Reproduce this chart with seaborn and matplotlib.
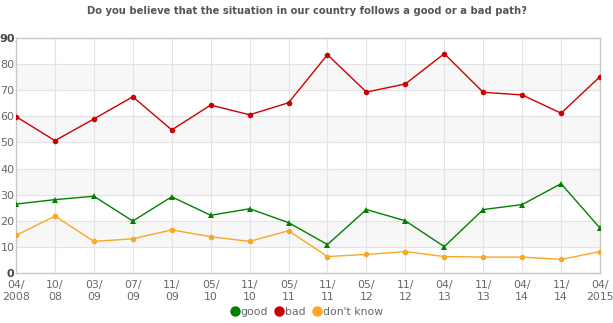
import matplotlib
matplotlib.use("Agg")
import matplotlib.pyplot as plt
import seaborn as sns
import pandas as pd
from matplotlib.lines import Line2D

categories = ["04/\n2008", "10/\n08", "03/\n09", "07/\n09", "11/\n09", "05/\n10", "11/\n10", "05/\n11",
              "11/\n11", "05/\n12", "11/\n12", "04/\n13", "11/\n13", "04/\n14", "11/\n14", "04/\n2015"]
good = [26.4, 28.1, 29.4, 19.9, 29.2, 22.1, 24.6, 19.3, 10.9, 24.3, 20.0, 10.1, 24.3, 26.2, 34.2, 17.2]
bad = [59.9, 50.7, 59.0, 67.5, 54.8, 64.3, 60.6, 65.2, 83.6, 69.3, 72.4, 84.0, 69.2, 68.2, 61.2, 75.2]
dont_know = [14.4, 21.8, 12.1, 13.1, 16.5, 13.9, 12.1, 16.2, 6.3, 7.1, 8.2, 6.3, 6.1, 6.1, 5.2, 8.2]
series_names = ["good", "bad", "don't know"]
colors = {"good": "#008000", "bad": "#cc0000", "don't know": "#f9a825"}
markers = {"good": "^", "bad": "o", "don't know": "o"}
yticks = list(range(0, 91, 10))

rows = []
for name, vals in zip(series_names, [good, bad, dont_know]):
    for i, v in enumerate(vals):
        rows.append({"x": i, "value": v, "series": name})
df = pd.DataFrame(rows)

sns.set_style("white")
plt.rcParams['font.family'] = ['DejaVu Sans']

fig = plt.figure(figsize=(6.13, 3.23), dpi=100)
ax = fig.add_axes([16/613, 1-273/323, (600-16)/613, (273-38)/323])

# alternating bands
for lo in [10, 30, 50, 70]:
    ax.axhspan(lo, lo+10, color="#f7f7f7", zorder=0)
for yv in range(10, 90, 10):
    ax.axhline(yv, color="#e3e3e3", lw=0.8, zorder=1)
for xv in range(1, len(categories)-1):
    ax.axvline(xv, color="#e3e3e3", lw=0.8, zorder=1)

for name in series_names:
    sub = df[df["series"] == name]
    sns.lineplot(data=sub, x="x", y="value", ax=ax, color=colors[name], lw=1.0,
                 marker=markers[name], markersize=4, markeredgewidth=0, zorder=3, legend=False)

ax.set_xlim(0, len(categories)-1)
ax.set_ylim(0, 90)
ax.set_yticks(yticks)
ax.set_yticklabels([str(v) for v in yticks], fontsize=8, color="#666670")
for lbl, v in zip(ax.get_yticklabels(), yticks):
    if v in (0, 90):
        lbl.set_fontweight("bold")
        lbl.set_color("#444444")
ax.set_xticks(range(len(categories)))
ax.set_xticklabels(categories, fontsize=7.8, color="#666670", linespacing=1.25)
ax.tick_params(axis="y", pad=1, length=0)
ax.tick_params(axis="x", pad=5, length=0)
ax.set_xlabel("")
ax.set_ylabel("")
for s in ax.spines.values():
    s.set_color("#c8c8c8")
    s.set_linewidth(1.0)

fig.suptitle("Do you believe that the situation in our country follows a good or a bad path?",
             x=307/613, y=1-11/323, va="center", fontsize=7.2, fontweight="bold", color="#555555")

handles = [Line2D([], [], marker="o", color=colors[n], linestyle="none", markersize=6.5) for n in series_names]
fig.legend(handles, series_names, loc="center", bbox_to_anchor=(306/613, 1-312/323), ncol=3,
           frameon=False, fontsize=7.8, handletextpad=0.0, columnspacing=0.6,
           labelcolor="#666670", handlelength=1.0)

fig.savefig("out.png", dpi=100)
